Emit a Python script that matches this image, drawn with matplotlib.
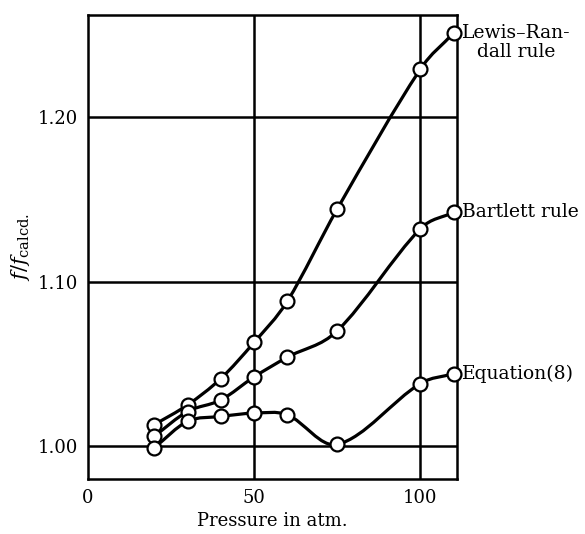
import numpy as np
import matplotlib
matplotlib.use("Agg")
import matplotlib.pyplot as plt
from matplotlib.path import Path
from matplotlib.patches import PathPatch

plt.rcParams['font.family'] = 'DejaVu Serif'
plt.rcParams['mathtext.fontset'] = 'dejavuserif'

# pressures (atm) and f/f_calcd
pressure = [20, 30, 40, 50, 60, 75, 100, 110]
lewis_randall = [1.013, 1.025, 1.041, 1.063, 1.088, 1.144, 1.229, 1.251]
bartlett = [1.006, 1.021, 1.028, 1.042, 1.054, 1.070, 1.132, 1.142]
equation8 = [0.999, 1.015, 1.018, 1.020, 1.019, 1.001, 1.038, 1.044]

labels = ["Lewis\u2013Ran-\ndall rule", "Bartlett rule", "Equation(8)"]
xticks = [0, 50, 100]
yticks = [1.00, 1.10, 1.20]


def smooth_path(x, y):
    # cubic Hermite through the points, written as Bezier segments
    x = np.asarray(x, float)
    y = np.asarray(y, float)
    n = len(x)
    m = np.empty(n)
    m[0] = (y[1] - y[0]) / (x[1] - x[0])
    m[-1] = (y[-1] - y[-2]) / (x[-1] - x[-2])
    for i in range(1, n - 1):
        m[i] = (y[i + 1] - y[i - 1]) / (x[i + 1] - x[i - 1])
    verts = [(x[0], y[0])]
    codes = [Path.MOVETO]
    for i in range(n - 1):
        h = x[i + 1] - x[i]
        verts += [(x[i] + h / 3, y[i] + m[i] * h / 3),
                  (x[i + 1] - h / 3, y[i + 1] - m[i + 1] * h / 3),
                  (x[i + 1], y[i + 1])]
        codes += [Path.CURVE4] * 3
    return Path(verts, codes)


fig = plt.figure(figsize=(5.85, 5.34), dpi=100)
ax = fig.add_axes([0.150, 0.103, 0.631, 0.869])

for v in xticks[1:]:
    ax.axvline(v, color='black', lw=1.8, zorder=1)
for v in yticks:
    ax.axhline(v, color='black', lw=1.8, zorder=1)

offsets = [(6, -7), (6, 0), (6, 0)]
for series, lab, off in zip([lewis_randall, bartlett, equation8], labels, offsets):
    ax.add_patch(PathPatch(smooth_path(pressure, series), fill=False,
                           edgecolor='black', lw=2.3, zorder=2))
    ax.plot(pressure, series, 'o', ms=10, mfc='white', mec='black',
            mew=1.6, zorder=3, clip_on=False)
    ax.annotate(lab, xy=(pressure[-1], series[-1]), xytext=off,
                textcoords='offset points', ha='left', va='center',
                fontsize=13.5, multialignment='center', linespacing=1.1,
                annotation_clip=False)

ax.set_xlim(0, 111)
ax.set_ylim(0.98, 1.262)
ax.set_xticks(xticks)
ax.set_yticks(yticks)
ax.set_yticklabels(["1.00", "1.10", "1.20"])
ax.tick_params(length=0, labelsize=13, pad=7)
for s in ax.spines.values():
    s.set_linewidth(1.8)

ax.set_xlabel("Pressure in atm.", fontsize=13, labelpad=4)
ax.set_ylabel(r"$f/f_{\rm calcd.}$", fontsize=15, labelpad=4)

fig.savefig("out.png", dpi=100)
